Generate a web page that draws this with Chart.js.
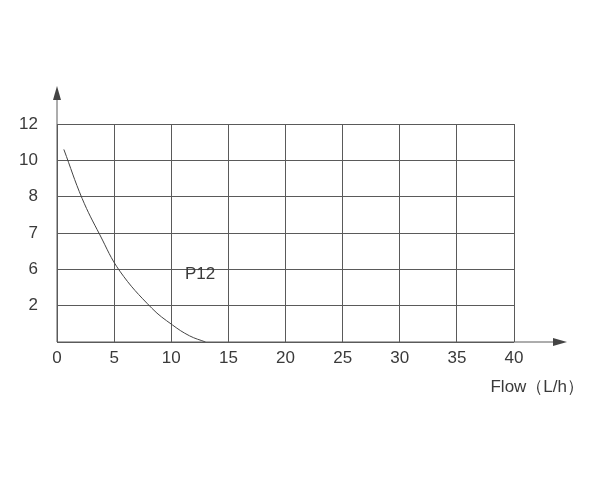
<!DOCTYPE html>
<html>
<head>
<meta charset="utf-8">
<script src="https://cdn.jsdelivr.net/npm/chart.js@4.4.1/dist/chart.umd.min.js"></script>
<style>
  html, body { margin: 0; padding: 0; background: #fff; }
  #wrap { width: 600px; height: 500px; }
</style>
</head>
<body>
<div id="wrap"><canvas id="pumpChart" width="600" height="500"></canvas></div>
<script>
// curve (y in grid steps, the axis labels are not linear)
const flow = [0.6, 2.2, 3.75, 5.5, 8.3, 10.1, 11.6, 13.0];
const head = [5.3, 3.95, 2.95, 1.95, 0.93, 0.47, 0.17, 0];
const yTickLabels = ['', '2', '6', '7', '8', '10', '12'];
const xTicks = [0, 5, 10, 15, 20, 25, 30, 35, 40];
const seriesName = 'P12';
const xTitle = 'Flow（L/h）';

const FONT = '"Liberation Sans", Arial, sans-serif';
const TEXT = '#3a3a3a';
const GRID = '#5a5a5a';

// axis arrows + curve name + axis title
const extras = {
  id: 'extras',
  afterDraw(chart) {
    const ctx = chart.ctx;
    const a = chart.chartArea;
    const xs = chart.scales.x, ys = chart.scales.y;
    ctx.save();
    ctx.strokeStyle = GRID;
    ctx.fillStyle = '#444';
    ctx.lineWidth = 1;
    // vertical axis going up
    ctx.beginPath();
    ctx.moveTo(a.left, a.bottom);
    ctx.lineTo(a.left, a.top - 30);
    ctx.stroke();
    ctx.beginPath();
    ctx.moveTo(a.left, a.top - 38);
    ctx.lineTo(a.left - 4, a.top - 24);
    ctx.lineTo(a.left + 4, a.top - 24);
    ctx.closePath();
    ctx.fill();
    // horizontal axis going right
    ctx.beginPath();
    ctx.moveTo(a.left, a.bottom);
    ctx.lineTo(a.right + 40, a.bottom);
    ctx.stroke();
    ctx.beginPath();
    ctx.moveTo(a.right + 53, a.bottom);
    ctx.lineTo(a.right + 39, a.bottom - 4);
    ctx.lineTo(a.right + 39, a.bottom + 4);
    ctx.closePath();
    ctx.fill();

    ctx.fillStyle = TEXT;
    ctx.font = '17px ' + FONT;
    ctx.textBaseline = 'middle';
    ctx.textAlign = 'left';
    ctx.fillText(seriesName, xs.getPixelForValue(11.2), ys.getPixelForValue(1.85));

    ctx.textAlign = 'right';
    ctx.fillText(xTitle, 584, 387);
    ctx.restore();
  }
};

const ctx = document.getElementById('pumpChart').getContext('2d');
new Chart(ctx, {
  type: 'scatter',
  data: {
    datasets: [{
      label: seriesName,
      data: flow.map((f, i) => ({ x: f, y: head[i] })),
      showLine: true,
      borderColor: '#444',
      borderWidth: 1,
      pointRadius: 0,
      tension: 0.4,
      fill: false
    }]
  },
  options: {
    responsive: false,
    animation: false,
    layout: { padding: { left: 0, top: 124, right: 86, bottom: 0 } },
    plugins: { legend: { display: false }, tooltip: { enabled: false } },
    scales: {
      x: {
        type: 'linear',
        min: 0,
        max: 40,
        afterBuildTicks: (s) => { s.ticks = xTicks.map(v => ({ value: v })); },
        afterFit: (s) => { s.height = 158; },
        grid: { color: GRID, lineWidth: 1, drawTicks: false },
        border: { display: false },
        ticks: { color: TEXT, font: { family: FONT, size: 17 }, padding: 6, maxRotation: 0 }
      },
      y: {
        type: 'linear',
        min: 0,
        max: 6,
        afterBuildTicks: (s) => { s.ticks = yTickLabels.map((_, i) => ({ value: i })); },
        afterFit: (s) => { s.width = 57; },
        grid: { color: GRID, lineWidth: 1, drawTicks: false },
        border: { display: false },
        ticks: {
          color: TEXT,
          font: { family: FONT, size: 17 },
          padding: 19,
          callback: (v) => yTickLabels[v]
        }
      }
    }
  },
  plugins: [extras]
});
</script>
</body>
</html>
